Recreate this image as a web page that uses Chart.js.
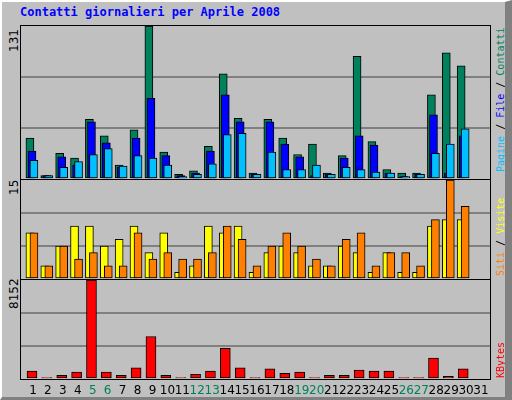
<!DOCTYPE html>
<html lang="it">
<head>
<meta charset="UTF-8" />
<title>Contatti giornalieri per Aprile 2008</title>
<script src="https://cdn.jsdelivr.net/npm/chart.js"></script>
<style>
  body { margin: 0; }
  #page { position: relative; width: 512px; height: 400px; background: #c0c0c0; overflow: hidden;
          box-sizing: border-box; border-top: 2px solid #fff; border-left: 2px solid #fff;
          border-right: 7px solid #808080; border-bottom: 3px solid #808080; }
  .title { position: absolute; left: 18px; top: 3px; font: bold 12px "DejaVu Sans Mono", monospace; color: #0000ff; }
  .panel { position: absolute; left: 18px; width: 471px; border: 1px solid #000; box-sizing: border-box; }
  canvas { display: block; }
  .vl { position: absolute; transform-origin: left top; transform: rotate(-90deg); white-space: nowrap;
        font: 12px "DejaVu Sans", sans-serif; }
  .vr { position: absolute; transform-origin: left top; transform: rotate(-90deg); white-space: nowrap;
        font: 10px "DejaVu Sans Mono", monospace; color: #000; }
</style>
</head>
<body>
<div id="page">
  <div class="title">Contatti giornalieri per Aprile 2008</div>

  <div class="panel" style="top:23px;height:155px"><canvas id="c1" width="469" height="153"></canvas></div>
  <div class="panel" style="top:177px;height:101px"><canvas id="c2" width="469" height="99"></canvas></div>
  <div class="panel" style="top:277px;height:101px"><canvas id="c3" width="469" height="99"></canvas></div>
  <canvas id="cx" width="471" height="50" style="position:absolute;left:18px;top:348px"></canvas>

  <div class="vl" style="left:5px;top:50px">131</div>
  <div class="vl" style="left:5px;top:193px">15</div>
  <div class="vl" style="left:5px;top:307px">8152</div>

  <div class="vr" style="left:493px;top:170px"><span style="color:#00c0ff">Pagine</span> / <span style="color:#0000ff">File</span> / <span style="color:#00805c">Contatti</span></div>
  <div class="vr" style="left:493px;top:274px"><span style="color:#ff8000">Siti</span> / <span style="color:#ffff00">Visite</span></div>
  <div class="vr" style="left:493px;top:376px"><span style="color:#ff0000">KBytes</span></div>
</div>

<script>
  const days = Array.from({ length: 31 }, (_, i) => i + 1);
  const weekend = [5, 6, 12, 13, 19, 20, 26, 27];

  const hits   = [35, 3, 22, 18, 51, 37, 12, 42, 131, 23, 4, 7, 28, 90, 52, 5, 51, 35, 21, 30, 5, 20, 105, 32, 8, 5, 5, 72, 108, 97, 0];
  const files  = [24, 3, 19, 12, 49, 31, 10, 35, 69, 20, 3, 5, 24, 72, 49, 4, 49, 30, 19, 3, 4, 18, 37, 29, 5, 2, 4, 55, 5, 37, 0];
  const pages  = [16, 3, 10, 15, 21, 26, 11, 20, 18, 12, 2, 4, 13, 38, 39, 4, 23, 8, 8, 12, 4, 10, 8, 6, 5, 2, 4, 22, 30, 43, 0];
  const visits = [7, 2, 5, 8, 8, 5, 6, 8, 4, 7, 1, 2, 8, 7, 8, 1, 4, 5, 4, 2, 2, 5, 4, 1, 4, 1, 1, 8, 9, 9, 0];
  const sites  = [7, 2, 5, 3, 4, 2, 2, 7, 3, 4, 3, 3, 4, 8, 6, 2, 5, 7, 5, 3, 2, 6, 7, 2, 4, 4, 2, 9, 15, 11, 0];
  const kbytes = [650, 120, 300, 560, 8152, 560, 300, 920, 3500, 300, 120, 385, 650, 2520, 920, 120, 830, 475, 560, 120, 300, 300, 740, 650, 650, 120, 120, 1720, 210, 830, 0];
  const maxima = [131, 15, 8152];

  const X_MIN = 0.13, X_MAX = 31.67;

  function ds(values, color, offset, width, order) {
    return {
      data: days.map((d, i) => ({ x: d + offset, y: values[i] })),
      backgroundColor: color, borderColor: '#000', borderWidth: 1,
      barThickness: width, grouped: false, order: order, borderSkipped: false
    };
  }

  function panel(id, datasets, max) {
    new Chart(document.getElementById(id), {
      type: 'bar',
      data: { datasets: datasets },
      options: {
        responsive: false, animation: false,
        layout: { padding: 0 },
        plugins: { legend: { display: false }, tooltip: { enabled: false } },
        scales: {
          x: { type: 'linear', offset: false, min: X_MIN, max: X_MAX, display: false },
          y: {
            min: 0, max: max,
            afterBuildTicks: ax => { ax.ticks = [0, max / 3, 2 * max / 3, max].map(v => ({ value: v })); },
            ticks: { display: false },
            border: { display: false },
            grid: { color: ctx => (ctx.index === 1 || ctx.index === 2) ? '#808080' : 'rgba(0,0,0,0)', lineWidth: 2, drawTicks: false }
          }
        }
      },
      plugins: [{ id: 'bg', beforeDraw: c => { const g = c.ctx; g.save(); g.fillStyle = '#c0c0c0'; g.fillRect(0, 0, c.width, c.height); g.restore(); } }]
    });
  }

  panel('c1', [
    ds(hits, '#00805c', -0.27, 8, 3),
    ds(files, '#0000ff', -0.13, 8, 2),
    ds(pages, '#00c0ff', 0, 8, 1)
  ], maxima[0]);

  panel('c2', [
    ds(visits, '#ffff00', -0.27, 8, 2),
    ds(sites, '#ff8000', 0, 8, 1)
  ], maxima[1]);

  panel('c3', [
    ds(kbytes, '#ff0000', -0.13, 10, 1)
  ], maxima[2]);

  // day labels (transparent canvas under the x axis)
  new Chart(document.getElementById('cx'), {
    type: 'bar',
    data: { datasets: [{ data: [] }] },
    options: {
      responsive: false, animation: false,
      layout: { padding: 0 },
      plugins: { legend: { display: false }, tooltip: { enabled: false } },
      scales: {
        x: {
          type: 'linear', offset: false, min: X_MIN, max: X_MAX, position: 'bottom',
          afterBuildTicks: ax => { ax.ticks = days.map(d => ({ value: d })); },
          ticks: {
            autoSkip: false, maxRotation: 0, minRotation: 0, padding: 2,
            font: { family: 'DejaVu Sans', size: 12 },
            color: ctx => weekend.includes(ctx.tick.value) ? '#00805c' : '#000'
          },
          grid: { display: false, drawTicks: false }, border: { display: false }
        },
        y: { display: false }
      }
    }
  });
</script>
</body>
</html>
